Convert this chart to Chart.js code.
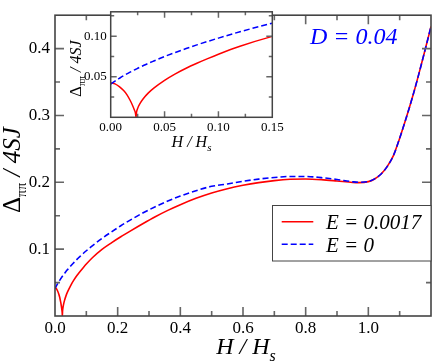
<!DOCTYPE html>
<html><head><meta charset="utf-8">
<script src="https://cdn.jsdelivr.net/npm/chart.js@4.4.1/dist/chart.umd.min.js"></script>
<style>
html,body{margin:0;padding:0;background:#fff;}
#wrap{position:relative;width:436px;height:363px;overflow:hidden;}
#wrap canvas{position:absolute;left:0;top:0;}
</style></head><body>
<div id="wrap">
<canvas id="main" width="436" height="363"></canvas>
<canvas id="inset" width="290" height="160"></canvas>
</div>
<script>
// ---- data ----
const H_VALUES = [0, 0.004, 0.008, 0.012, 0.015, 0.018, 0.020, 0.022, 0.023, 0.0235, 0.024, 0.025, 0.027, 0.030, 0.035, 0.040, 0.050, 0.060, 0.070, 0.080, 0.090, 0.100, 0.120, 0.150, 0.180, 0.210, 0.240, 0.280, 0.320, 0.360, 0.400, 0.450, 0.500, 0.550, 0.600, 0.650, 0.700, 0.750, 0.800, 0.850, 0.900, 0.950, 0.970, 1.000, 1.020, 1.040, 1.060, 1.080, 1.100, 1.120, 1.140, 1.160, 1.180, 1.200];
const DELTA_E_0017 = [0.0426, 0.0412, 0.0378, 0.0330, 0.0280, 0.0210, 0.0155, 0.0090, 0.0050, 0.0000, 0.0063, 0.0109, 0.0166, 0.0226, 0.0301, 0.0360, 0.0456, 0.0536, 0.0605, 0.0666, 0.0723, 0.0777, 0.0875, 0.0997, 0.1095, 0.1185, 0.1270, 0.1380, 0.1485, 0.1580, 0.1665, 0.1760, 0.1840, 0.1905, 0.1955, 0.1995, 0.2025, 0.2045, 0.2050, 0.2040, 0.2020, 0.1998, 0.1995, 0.2010, 0.2050, 0.2120, 0.2235, 0.2400, 0.2660, 0.2950, 0.3260, 0.3600, 0.3960, 0.4330];
const DELTA_E_0 = [0.0410, 0.0447, 0.0480, 0.0512, 0.0534, 0.0556, 0.0570, 0.0584, 0.0590, 0.0594, 0.0597, 0.0604, 0.0617, 0.0635, 0.0666, 0.0694, 0.0749, 0.0799, 0.0847, 0.0892, 0.0935, 0.0976, 0.1054, 0.1160, 0.1257, 0.1350, 0.1435, 0.1540, 0.1635, 0.1720, 0.1795, 0.1875, 0.1940, 0.1975, 0.2015, 0.2048, 0.2072, 0.2088, 0.2088, 0.2070, 0.2042, 0.2008, 0.2000, 0.2012, 0.2052, 0.2120, 0.2235, 0.2400, 0.2660, 0.2950, 0.3260, 0.3600, 0.3960, 0.4330];
const SERIES_LABELS = ['E = 0.0017', 'E = 0'];
const PARAM_LABEL = 'D = 0.04';
const MAIN_X_TICK_LABELS = ['0.0', '0.2', '0.4', '0.6', '0.8', '1.0'];
const MAIN_Y_TICK_LABELS = ['0.1', '0.2', '0.3', '0.4'];
const INSET_X_TICK_LABELS = ['0.00', '0.05', '0.10', '0.15'];
const INSET_Y_TICK_LABELS = ['0.05', '0.10'];

// ---- helpers ----
const SERIF = "'Liberation Serif', 'Times New Roman', serif";
const RED = '#ff0000', BLUE = '#0000ff';
function pts(arr) { return H_VALUES.map((h, i) => ({ x: h, y: arr[i] })); }
function isMult(v, step) { const r = v / step; return Math.abs(r - Math.round(r)) < 1e-6; }
function labelCb(list) { return function (v) { const hit = list.find(s => Math.abs(parseFloat(s) - v) < 1e-6); return hit || ''; }; }

function drawRich(ctx, parts, x, y, rotate, align) {
  ctx.save();
  ctx.translate(x, y);
  if (rotate) ctx.rotate(-Math.PI / 2);
  ctx.textBaseline = 'alphabetic';
  ctx.textAlign = 'left';
  let total = 0;
  for (const p of parts) { ctx.font = p.font; total += ctx.measureText(p.text).width; }
  let cx = align === 'center' ? -total / 2 : 0;
  for (const p of parts) {
    ctx.font = p.font;
    ctx.fillStyle = p.color || '#000';
    ctx.fillText(p.text, cx, p.dy || 0);
    cx += ctx.measureText(p.text).width;
  }
  ctx.restore();
}

const frameTicks = {
  id: 'frameTicks',
  beforeDraw(chart, args, o) {
    if (o.fill) {
      const a = chart.chartArea, ctx = chart.ctx;
      ctx.save(); ctx.fillStyle = o.fill;
      ctx.fillRect(a.left, a.top, a.right - a.left, a.bottom - a.top);
      ctx.restore();
    }
  },
  afterDatasetsDraw(chart, args, o) {
    const { ctx, chartArea: a, scales: { x, y } } = chart;
    ctx.save();
    ctx.lineWidth = o.width;
    ctx.strokeStyle = o.tickColor;
    ctx.beginPath();
    for (const t of x.ticks) {
      const px = x.getPixelForValue(t.value);
      if (px < a.left + 0.5 || px > a.right - 0.5) continue;
      const L = isMult(t.value, o.xMajor) ? o.major : o.minor;
      ctx.moveTo(px, a.bottom); ctx.lineTo(px, a.bottom - L);
      ctx.moveTo(px, a.top); ctx.lineTo(px, a.top + L);
    }
    for (const t of y.ticks) {
      const py = y.getPixelForValue(t.value);
      if (py < a.top + 0.5 || py > a.bottom - 0.5) continue;
      const L = isMult(t.value, o.yMajor) ? o.major : o.minor;
      ctx.moveTo(a.left, py); ctx.lineTo(a.left + L, py);
      ctx.moveTo(a.right, py); ctx.lineTo(a.right - L, py);
    }
    ctx.stroke();
    ctx.strokeStyle = o.frameColor;
    ctx.strokeRect(a.left, a.top, a.right - a.left, a.bottom - a.top);
    ctx.restore();
  }
};

function datasets(lw) {
  return [
    { label: SERIES_LABELS[1], data: pts(DELTA_E_0), borderColor: BLUE, borderWidth: lw, borderDash: [6, 3], order: 1, cubicInterpolationMode: 'monotone' },
    { label: SERIES_LABELS[0], data: pts(DELTA_E_0017), borderColor: RED, borderWidth: lw, order: 2, cubicInterpolationMode: 'monotone' }
  ];
}

function scaleOpts(min, max, step, size, pad, cb, fit) {
  return {
    type: 'linear', min: min, max: max,
    afterFit: fit,
    grid: { display: false, drawTicks: false },
    border: { display: false },
    ticks: { stepSize: step, autoSkip: false, maxRotation: 0, includeBounds: false, padding: pad, color: '#000', font: { family: SERIF, size: size }, callback: cb }
  };
}

// ---- main chart ----
const mainAnno = {
  id: 'mainAnno',
  afterDraw(chart) {
    const { ctx, chartArea: a } = chart;
    drawRich(ctx, [
      { text: 'H / H', font: 'italic 24px ' + SERIF },
      { text: 's', font: 'italic 16px ' + SERIF, dy: 7 }
    ], (a.left + a.right) / 2 + 3, 354, false, 'center');
    drawRich(ctx, [
      { text: 'Δ', font: '25px ' + SERIF },
      { text: 'ππ', font: '14px ' + SERIF, dy: 6 },
      { text: ' / 4SJ', font: 'italic 25px ' + SERIF }
    ], 20, 213, true, 'left');
    drawRich(ctx, [{ text: PARAM_LABEL, font: 'italic 24px ' + SERIF, color: BLUE }], 310, 43.5, false, 'left');
    ctx.save();
    ctx.fillStyle = '#fff';
    ctx.fillRect(272.5, 205, 158.5, 56);
    ctx.strokeStyle = '#444'; ctx.lineWidth = 1;
    ctx.strokeRect(272.5, 205.5, 158.5, 55.5);
    const ds = chart.data.datasets;
    const rows = [{ d: ds[1], y: 221.7, ty: 229.3 }, { d: ds[0], y: 244.3, ty: 251.7 }];
    for (const r of rows) {
      ctx.strokeStyle = r.d.borderColor; ctx.lineWidth = 1.6;
      ctx.setLineDash(r.d.borderDash || []);
      ctx.beginPath(); ctx.moveTo(281.7, r.y); ctx.lineTo(313.3, r.y); ctx.stroke();
      ctx.setLineDash([]);
      drawRich(ctx, [{ text: r.d.label, font: 'italic 21px ' + SERIF }], 326, r.ty, false, 'left');
    }
    ctx.restore();
  }
};

new Chart(document.getElementById('main'), {
  type: 'line',
  data: { datasets: datasets(1.6) },
  options: {
    responsive: false, animation: false, devicePixelRatio: 1,
    layout: { padding: { top: 5, right: 5, left: 0, bottom: 0 } },
    plugins: {
      legend: { display: false }, tooltip: { enabled: false },
      frameTicks: { width: 1.6, tickColor: '#666', frameColor: '#444', major: 9, minor: 5, xMajor: 0.2, yMajor: 0.1 }
    },
    elements: { point: { radius: 0 }, line: { borderJoinStyle: 'round', tension: 0 } },
    scales: {
      x: scaleOpts(0, 1.2, 0.1, 17, 2, labelCb(MAIN_X_TICK_LABELS), s => { s.height = 47; }),
      y: scaleOpts(0, 0.45, 0.05, 17, 5, labelCb(MAIN_Y_TICK_LABELS), s => { s.width = 55; })
    }
  },
  plugins: [frameTicks, mainAnno]
});

// ---- inset chart ----
const insetAnno = {
  id: 'insetAnno',
  afterDraw(chart) {
    const { ctx, chartArea: a } = chart;
    drawRich(ctx, [
      { text: 'H / H', font: 'italic 16px ' + SERIF },
      { text: 's', font: 'italic 11px ' + SERIF, dy: 4 }
    ], (a.left + a.right) / 2, 146.7, false, 'center');
    drawRich(ctx, [
      { text: 'Δ', font: '17px ' + SERIF },
      { text: 'ππ', font: '10px ' + SERIF, dy: 4 },
      { text: ' / 4SJ', font: 'italic 16px ' + SERIF }
    ], 80.5, 97, true, 'left');
  }
};

new Chart(document.getElementById('inset'), {
  type: 'line',
  data: { datasets: datasets(1.5) },
  options: {
    responsive: false, animation: false, devicePixelRatio: 1,
    layout: { padding: { top: 1.3, right: 17.7, left: 0, bottom: 0 } },
    plugins: {
      legend: { display: false }, tooltip: { enabled: false },
      frameTicks: { fill: '#fff', width: 1.5, tickColor: '#666', frameColor: '#444', major: 6, minor: 3.5, xMajor: 0.05, yMajor: 0.05 }
    },
    elements: { point: { radius: 0 }, line: { borderJoinStyle: 'round', tension: 0 } },
    scales: {
      x: scaleOpts(0, 0.15, 0.025, 13, 2, labelCb(INSET_X_TICK_LABELS), s => { s.height = 42.7; }),
      y: scaleOpts(0, 0.13, 0.025, 13, 4, labelCb(INSET_Y_TICK_LABELS), s => { s.width = 110.7; })
    }
  },
  plugins: [frameTicks, insetAnno]
});
</script>
</body></html>
